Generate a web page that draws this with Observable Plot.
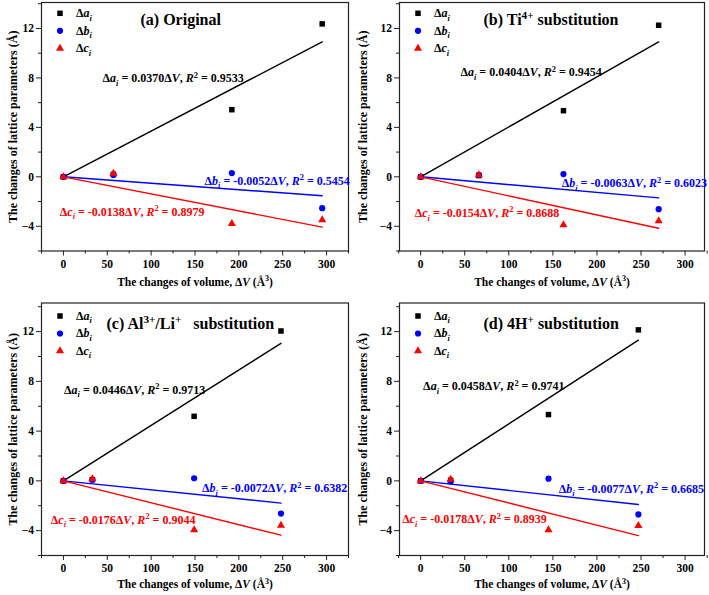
<!DOCTYPE html>
<html>
<head>
<meta charset="utf-8">
<script src="https://cdn.jsdelivr.net/npm/d3@7"></script>
<script src="https://cdn.jsdelivr.net/npm/@observablehq/plot@0.6"></script>
<style>
  html, body { margin: 0; padding: 0; background: #fff; }
  #wrap { position: relative; width: 709px; height: 595px; overflow: hidden; }
  #wrap > div { position: absolute; }
  svg text { white-space: pre; }
</style>
</head>
<body>
<div id="wrap"></div>
<script>
// ---- data ----
const panelTitles = ["(a) Original", "(b) Ti^4+^ substitution", "(c) Al^3+^/Li^+^   substitution", "(d) 4H^+^ substitution"];
const dV = [[0, 57, 192, 295], [0, 66, 162, 270], [0, 33, 149, 248], [0, 34, 145, 247]];
const dA = [[0, 0.2, 5.43, 12.37], [0, 0.1, 5.35, 12.26], [0, 0.1, 5.19, 12.05], [0, 0.05, 5.33, 12.14]];
const dB = [[0, 0.15, 0.3, -2.54], [0, 0.15, 0.22, -2.62], [0, 0.1, 0.21, -2.63], [0, -0.05, 0.18, -2.7]];
const dC = [[0, 0.27, -3.78, -3.48], [0, 0.15, -3.89, -3.57], [0, 0.15, -3.94, -3.59], [0, 0.12, -3.95, -3.6]];
const slopeA = [0.0370, 0.0404, 0.0446, 0.0458];
const slopeB = [-0.0052, -0.0063, -0.0072, -0.0077];
const slopeC = [-0.0138, -0.0154, -0.0176, -0.0178];
const r2A = ["0.9533", "0.9454", "0.9713", "0.9741"];
const r2B = ["0.5454", "0.6023", "0.6382", "0.6685"];
const r2C = ["0.8979", "0.8688", "0.9044", "0.8939"];
const seriesLabels = ["Δ~a~_i_", "Δ~b~_i_", "Δ~c~_i_"];
const xTicks = [0, 50, 100, 150, 200, 250, 300];
const xMinor = [-25, 25, 75, 125, 175, 225, 275, 325];
const yTicks = [-4, 0, 4, 8, 12];
const yMinor = [-6, -2, 2, 6, 10, 14];
const xTitle = "The changes of volume, Δ~V~ (Å^3^)";
const yTitle = "The changes of lattice parameters (Å)";

// ---- layout / style (not data) ----
const colors = ["#000000", "#0000ff", "#ff0000"];
const symbols = ["square", "circle", "triangle"];
const font = "'Liberation Serif', 'Times New Roman', serif";
const labelSize = 12;
const geom = [
  {left: 0,   top: 0,   width: 354, height: 295, mt: 2,   mb: 44.5, ml: 41, mr: 6, xd: [-25, 325], yd: [-6, 14.1], ytdx: -28, xtdy: 31, leg: [10.8, 28.3, 45.8], tdx: 99, tdy: 17.5},
  {left: 354, top: 0,   width: 355, height: 295, mt: 2,   mb: 44.5, ml: 45, mr: 5, xd: [-24, 322], yd: [-6, 14.1], ytdx: -36, xtdy: 31, leg: [10.8, 28.3, 45.8], tdx: 84, tdy: 17.5},
  {left: 0,   top: 295, width: 354, height: 300, mt: 7.5, mb: 40,   ml: 41, mr: 6, xd: [-25, 325], yd: [-6, 14.3], ytdx: -28, xtdy: 29, leg: [13, 30.5, 48], tdx: 65, tdy: 20.8},
  {left: 354, top: 295, width: 355, height: 300, mt: 7.5, mb: 40,   ml: 45, mr: 5, xd: [-24, 322], yd: [-6, 14.3], ytdx: -36, xtdy: 29, leg: [13, 30.5, 48], tdx: 84, tdy: 20.8}
];
// equation label anchors (start of text) in data coordinates
const eqPos = [
  [[44.6, 7.97], [160.9, -0.32], [-4.1, -2.84]],
  [[45.2, 8.45], [160, -0.54], [-6.7, -2.94]],
  [[0.7, 7.31], [158, -0.6], [-14.4, -3.13]],
  [[2.8, 7.6], [156.7, -0.63], [-21, -3.1]]
];

const ns = "http://www.w3.org/2000/svg";
function rich(svg) {
  svg.querySelectorAll("text").forEach(t => {
    let target = t;
    if (t.children.length === 1 && t.firstElementChild.tagName === "tspan") target = t.firstElementChild;
    const s = target.textContent;
    if (!/[~_^]/.test(s)) return;
    while (target.firstChild) target.removeChild(target.firstChild);
    const parts = s.split(/(~[^~]*~|_[^_]*_|\^[^^]*\^)/).filter(p => p !== "");
    let shift = 0;
    parts.forEach(p => {
      const ts = document.createElementNS(ns, "tspan");
      let txt = p, goal = 0, scale = 1;
      if (p[0] === "~") { txt = p.slice(1, -1); ts.setAttribute("font-style", "italic"); }
      else if (p[0] === "_") { txt = p.slice(1, -1); ts.setAttribute("font-style", "italic"); ts.setAttribute("font-size", "70%"); goal = 0.3; scale = 0.7; }
      else if (p[0] === "^") { txt = p.slice(1, -1); ts.setAttribute("font-size", "70%"); goal = -0.38; scale = 0.7; }
      const delta = goal - shift;
      if (Math.abs(delta) > 1e-9) ts.setAttribute("dy", (delta / scale).toFixed(3) + "em");
      shift = goal;
      ts.textContent = txt;
      target.appendChild(ts);
    });
  });
}

const wrap = document.getElementById("wrap");
for (let k = 0; k < 4; k++) {
  const g = geom[k];
  const rows = dV[k].map((v, j) => ({v, a: dA[k][j], b: dB[k][j], c: dC[k][j]}));
  const xEnd = d3.max(dV[k]);
  const slopes = [slopeA[k], slopeB[k], slopeC[k]];
  const r2 = [r2A[k], r2B[k], r2C[k]];
  const keys = ["a", "b", "c"];
  const eqs = [0, 1, 2].map(i => ({
    x: eqPos[k][i][0], y: eqPos[k][i][1], color: colors[i],
    label: `${seriesLabels[i]} = ${slopes[i].toFixed(4)}Δ~V~, ~R~^2^ = ${r2[i]}`
  }));
  const marks = [
    Plot.frame({stroke: "#222", strokeWidth: 1.2}),
    Plot.axisX(xTicks, {tickSize: 5, tickPadding: 3.5, label: null, stroke: "#222", fontSize: 11.5}),
    Plot.axisX(xMinor, {tickSize: 3, tickFormat: () => "", label: null, stroke: "#222"}),
    Plot.axisY(yTicks, {tickSize: 5, tickPadding: 2.5, label: null, stroke: "#222", fontSize: 11.5}),
    Plot.axisY(yMinor, {tickSize: 3, tickFormat: () => "", label: null, stroke: "#222"})
  ];
  // fitted lines
  slopes.forEach((s, i) => {
    marks.push(Plot.line([0, xEnd], {x: d => d, y: d => s * d, stroke: colors[i], strokeWidth: 1.4}));
  });
  // points
  keys.forEach((key, i) => {
    marks.push(Plot.dot(rows, {x: "v", y: key, symbol: symbols[i], fill: colors[i], r: i === 2 ? 3 : 3.1, stroke: "none"}));
  });
  // legend
  keys.forEach((key, i) => {
    marks.push(Plot.dot([0], {frameAnchor: "top-left", dx: 18.5, dy: g.leg[i], symbol: symbols[i], fill: colors[i], r: i === 2 ? 3 : 3.1, stroke: "none"}));
    marks.push(Plot.text([seriesLabels[i]], {frameAnchor: "top-left", dx: 34.5, dy: g.leg[i], text: d => d, textAnchor: "start", lineAnchor: "middle", fill: "#000", fontSize: labelSize, fontWeight: "bold"}));
  });
  // equations
  marks.push(Plot.text(eqs, {x: "x", y: "y", text: "label", fill: "color", textAnchor: "start", lineAnchor: "middle", fontSize: labelSize, fontWeight: "bold"}));
  // panel title
  marks.push(Plot.text([panelTitles[k]], {frameAnchor: "top-left", dx: g.tdx, dy: g.tdy, text: d => d, textAnchor: "start", lineAnchor: "middle", fontSize: 16, fontWeight: "bold", fill: "#000"}));
  // axis titles
  marks.push(Plot.text([xTitle], {frameAnchor: "bottom", dy: g.xtdy, text: d => d, textAnchor: "middle", lineAnchor: "middle", fontSize: 11.5, fontWeight: "bold", fill: "#000"}));
  marks.push(Plot.text([yTitle], {frameAnchor: "left", dx: g.ytdx, rotate: -90, text: d => d, textAnchor: "middle", lineAnchor: "middle", fontSize: 12, fontWeight: "bold", fill: "#000"}));

  const chart = Plot.plot({
    width: g.width, height: g.height,
    marginTop: g.mt, marginBottom: g.mb, marginLeft: g.ml, marginRight: g.mr,
    x: {domain: g.xd, label: null},
    y: {domain: g.yd, label: null},
    style: {fontFamily: font, fontSize: "11.5px", fontWeight: "bold", color: "#000", background: "transparent", overflow: "visible"},
    marks
  });
  rich(chart);
  const holder = document.createElement("div");
  holder.style.left = g.left + "px";
  holder.style.top = g.top + "px";
  holder.appendChild(chart);
  wrap.appendChild(holder);
}
</script>
</body>
</html>
